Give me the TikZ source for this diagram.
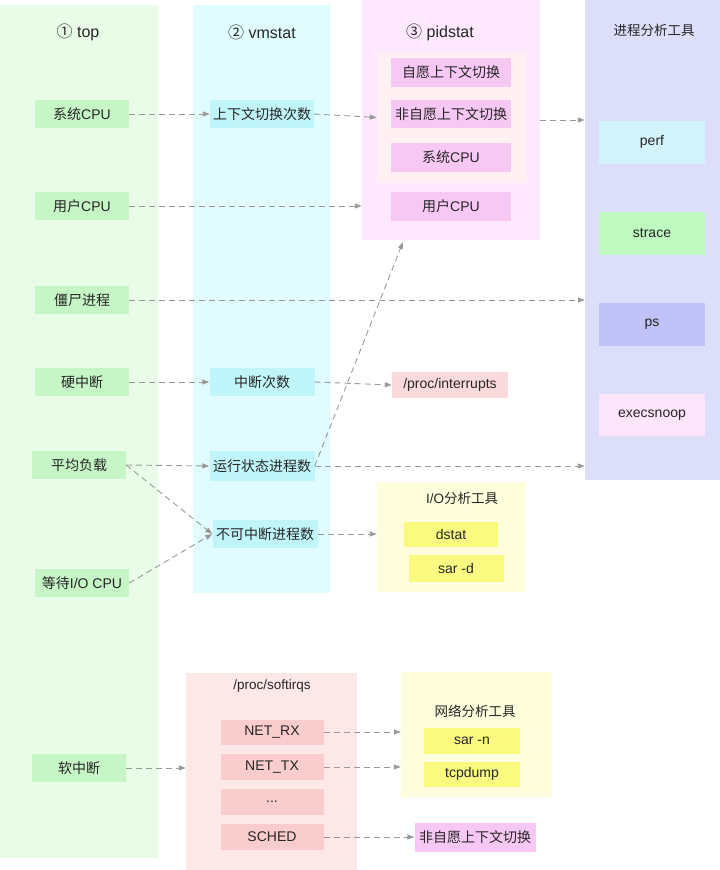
\documentclass[tikz,border=0pt]{standalone}
\usepackage{fontspec}
\setmainfont{Liberation Sans}
\newfontfamily\cjk{Noto Sans CJK SC}
\usetikzlibrary{arrows.meta}
\definecolor{topP}{HTML}{E8FCE8}
\definecolor{topB}{HTML}{C6F5C6}
\definecolor{vmP}{HTML}{E0FCFF}
\definecolor{vmB}{HTML}{C0F5FA}
\definecolor{pidP}{HTML}{FDE8FD}
\definecolor{pidIn}{HTML}{FFF0F3}
\definecolor{pidB}{HTML}{F8C8F5}
\definecolor{procP}{HTML}{DCDEFA}
\definecolor{perfB}{HTML}{D4F4FC}
\definecolor{straceB}{HTML}{BFF9BF}
\definecolor{psB}{HTML}{C0C2F8}
\definecolor{execB}{HTML}{FCE4FA}
\definecolor{intB}{HTML}{FADADC}
\definecolor{yelP}{HTML}{FEFEDC}
\definecolor{yelB}{HTML}{FAFA80}
\definecolor{sirqP}{HTML}{FDE8E8}
\definecolor{sirqB}{HTML}{F9CDCD}
\definecolor{arrowC}{HTML}{999999}
\begin{document}
\begin{tikzpicture}[x=1pt,y=-1pt,
  panel/.style={draw=none,inner sep=0pt,minimum width=#1},
  box/.style={draw=none,inner sep=0pt,minimum height=28pt,minimum width=#1,font=\fontsize{14}{16}\selectfont,text=black!85},
  ttl/.style={inner sep=0pt,font=\fontsize{13.5}{16}\selectfont,text=black!85},
  bigttl/.style={inner sep=0pt,font=\fontsize{16}{18}\selectfont,text=black!85},
  conn/.style={draw=arrowC,line width=0.9pt,dash pattern=on 6pt off 4pt,-{Triangle[length=7pt,width=5pt]}}]
\useasboundingbox (0,0) rectangle (720,870);
% panels
\node[panel=158pt,minimum height=853pt,fill=topP] (topPanel) at (79,431.5) {};
\node[panel=137pt,minimum height=588pt,fill=vmP] (vmPanel) at (261.5,299) {};
\node[panel=178pt,minimum height=240pt,fill=pidP] (pidPanel) at (451,120) {};
\node[panel=150pt,minimum height=131pt,fill=pidIn] (pidInner) at (452,117.5) {};
\node[panel=135pt,minimum height=480pt,fill=procP] (procPanel) at (652.5,240) {};
\node[panel=149pt,minimum height=110pt,fill=yelP] (ioPanel) at (451.5,537) {};
\node[panel=171pt,minimum height=197pt,fill=sirqP] (sirqPanel) at (271.5,771.5) {};
\node[panel=151pt,minimum height=125pt,fill=yelP] (netPanel) at (476.5,734.5) {};
% titles
\node[bigttl] (tTop) at (78,32) {{\cjk ①} top};
\node[bigttl] (tVm) at (262,32) {{\cjk ②} vmstat};
\node[bigttl] (tPid) at (440,32) {{\cjk ③} pidstat};
\node[ttl] (tProc) at (654,30) {\cjk 进程分析工具};
\node[ttl] (tIo) at (462,498) {I/O{\cjk 分析工具}};
\node[ttl] (tSirq) at (272,686) {/proc/softirqs};
\node[ttl] (tNet) at (475,711) {\cjk 网络分析工具};
% top column
\node[box=94pt,fill=topB] (sysCPU) at (82,114) {{\cjk 系统}CPU};
\node[box=94pt,fill=topB] (usrCPU) at (82,206) {{\cjk 用户}CPU};
\node[box=94pt,fill=topB] (zombie) at (82,300) {\cjk 僵尸进程};
\node[box=94pt,fill=topB] (hardirq) at (82,382) {\cjk 硬中断};
\node[box=94pt,fill=topB] (loadavg) at (79,465) {\cjk 平均负载};
\node[box=94pt,fill=topB] (iowait) at (82,583) {{\cjk 等待}I/O CPU};
\node[box=94pt,fill=topB] (softirq) at (79,768) {\cjk 软中断};
% vmstat column
\node[box=104pt,fill=vmB] (ctxsw) at (262,114) {\cjk 上下文切换次数};
\node[box=105pt,fill=vmB] (intcnt) at (262,382) {\cjk 中断次数};
\node[box=105pt,fill=vmB,minimum height=30pt] (runq) at (262,466) {\cjk 运行状态进程数};
\node[box=105pt,fill=vmB] (unint) at (265,534) {\cjk 不可中断进程数};
% pidstat column
\node[box=120pt,fill=pidB,minimum height=29pt] (vcs) at (451,72) {\cjk 自愿上下文切换};
\node[box=120pt,fill=pidB] (nvcs) at (451,114) {\cjk 非自愿上下文切换};
\node[box=120pt,fill=pidB,minimum height=29pt] (pSys) at (451,157) {{\cjk 系统}CPU};
\node[box=120pt,fill=pidB,minimum height=29pt] (pUsr) at (451,206) {{\cjk 用户}CPU};
% process tools
\node[box=106pt,fill=perfB,minimum height=43pt] (perf) at (652,142) {perf};
\node[box=106pt,fill=straceB,minimum height=43pt] (strace) at (652,233) {strace};
\node[box=106pt,fill=psB,minimum height=43pt] (ps) at (652,324) {ps};
\node[box=106pt,fill=execB,minimum height=42pt] (execsnoop) at (652,415) {execsnoop};
% interrupts
\node[box=116pt,fill=intB,minimum height=26pt] (procint) at (450,385) {/proc/interrupts};
% io tools
\node[box=94pt,fill=yelB,minimum height=25pt] (dstat) at (451,534) {dstat};
\node[box=95pt,fill=yelB,minimum height=27pt] (sard) at (456,568) {sar -d};
% softirqs
\node[box=103pt,fill=sirqB,minimum height=25pt] (netrx) at (272,732) {NET\_RX};
\node[box=103pt,fill=sirqB,minimum height=26pt] (nettx) at (272,767) {NET\_TX};
\node[box=103pt,fill=sirqB,minimum height=26pt] (dots) at (272,802) {...};
\node[box=103pt,fill=sirqB,minimum height=26pt] (sched) at (272,837) {SCHED};
% network tools
\node[box=96pt,fill=yelB,minimum height=26pt] (sarn) at (472,741) {sar -n};
\node[box=96pt,fill=yelB,minimum height=25pt] (tcpdump) at (472,774) {tcpdump};
% final box
\node[box=121pt,fill=pidB,minimum height=29pt] (nvcs2) at (475,837) {\cjk 非自愿上下文切换};
\coordinate (pidBottom) at (403,242);
% connectors
\draw[conn] (sysCPU.east) -- (ctxsw.west);
\draw[conn] (ctxsw.east) -- (pidInner.west);
\draw[conn] (pidPanel.east) -- (pidPanel.east -| procPanel.west);
\draw[conn] (usrCPU.east) -- (usrCPU.east -| pidPanel.west);
\draw[conn] (zombie.east) -- (zombie.east -| procPanel.west);
\draw[conn] (hardirq.east) -- (intcnt.west);
\draw[conn] (intcnt.east) -- (procint.west);
\draw[conn] (loadavg.east) -- (runq.west);
\draw[conn] (runq.east) -- (runq.east -| procPanel.west);
\draw[conn] (runq.east) -- (pidBottom);
\draw[conn] (loadavg.east) -- (unint.west);
\draw[conn] (iowait.east) -- (unint.west);
\draw[conn] (unint.east) -- (unint.east -| ioPanel.west);
\draw[conn] (softirq.east) -- (softirq.east -| sirqPanel.west);
\draw[conn] (netrx.east) -- (netrx.east -| netPanel.west);
\draw[conn] (nettx.east) -- (nettx.east -| netPanel.west);
\draw[conn] (sched.east) -- (nvcs2.west);
\end{tikzpicture}
\end{document}
